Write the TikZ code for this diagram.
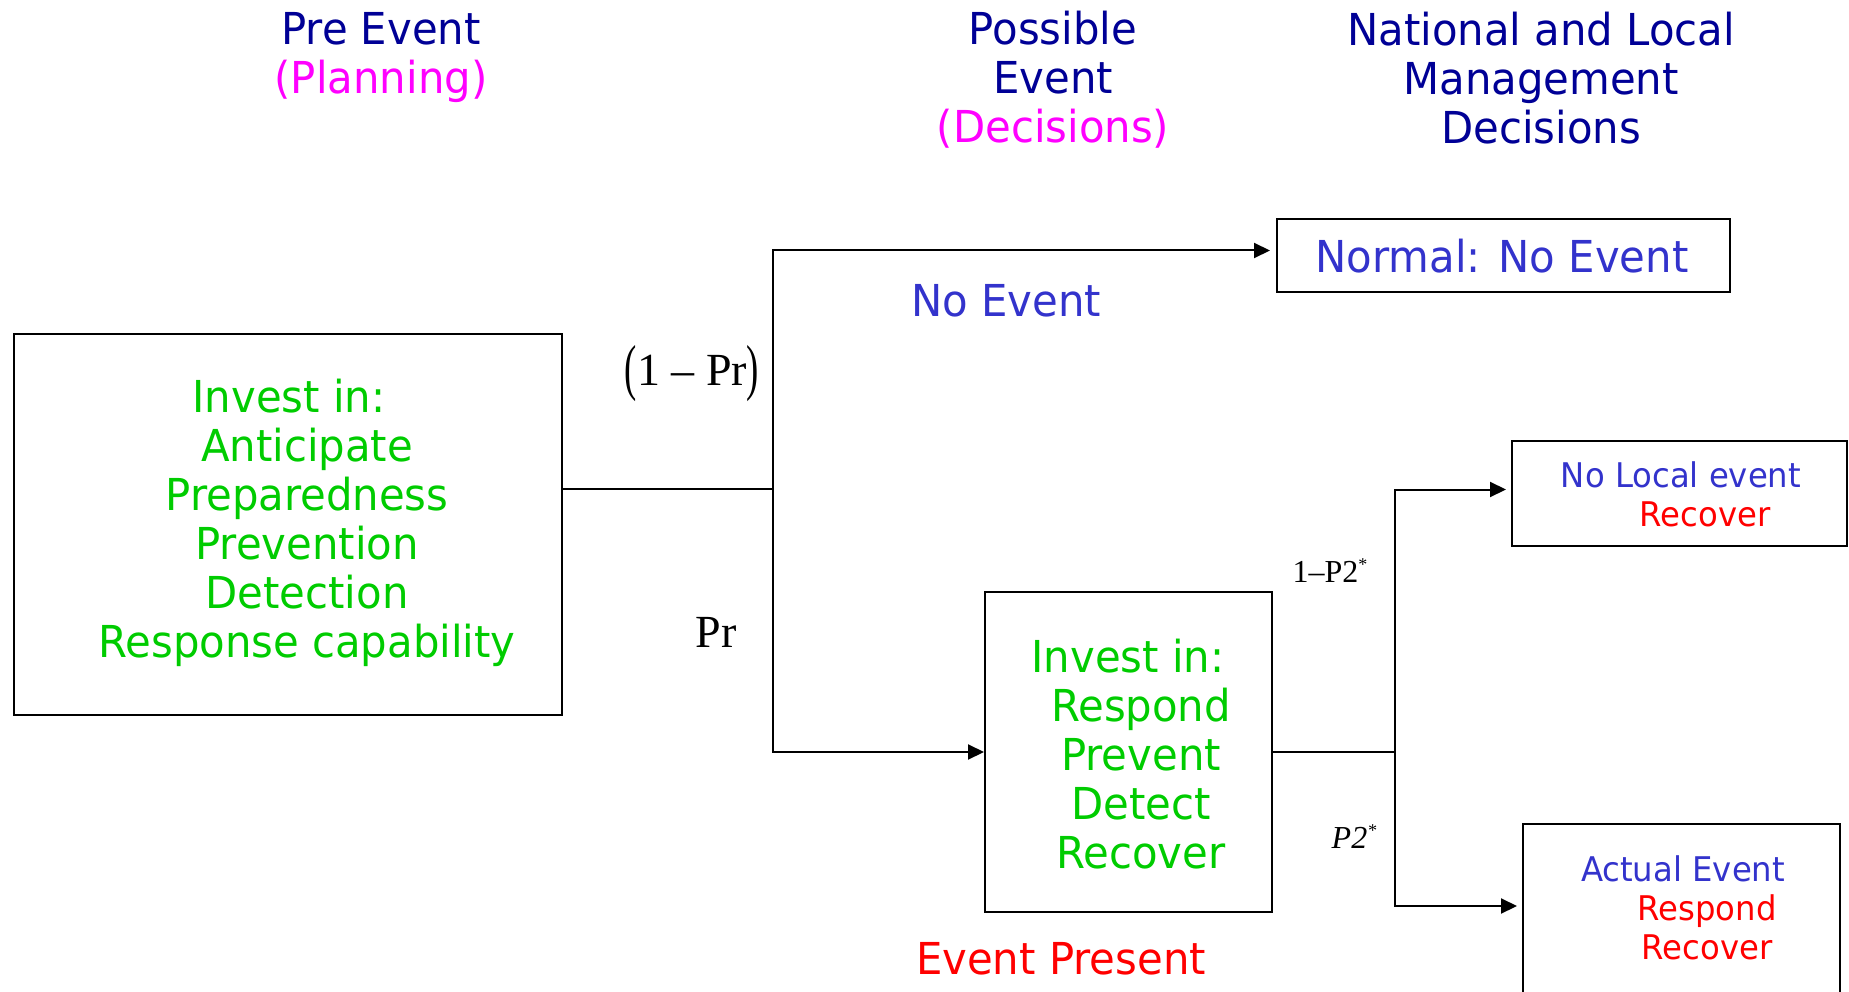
\documentclass[tikz,border=0pt]{standalone}
\usepackage{fontspec}
\setmainfont{DejaVu Sans}[FakeStretch=0.95]
\newfontfamily\tms{Liberation Serif}
\usetikzlibrary{arrows.meta}
\definecolor{hdrblue}{RGB}{0,0,150}
\definecolor{lblue}{RGB}{51,51,204}
\definecolor{mag}{RGB}{255,0,255}
\definecolor{grn}{RGB}{0,204,0}
\definecolor{rd}{RGB}{255,0,0}
\tikzset{
  boxnode/.style={draw, line width=2pt, inner sep=0pt},
  conn/.style={line width=2pt},
  arr/.style={conn, -{Triangle[length=16pt,width=15pt]}},
  big/.style={font=\fontsize{44}{49}\selectfont, align=center, inner sep=0pt},
  small/.style={font=\fontsize{34}{39}\selectfont, align=center, inner sep=0pt},
  mathlbl/.style={font=\tms\fontsize{46}{46}\selectfont, inner sep=0pt},
  smathlbl/.style={font=\tms\fontsize{32}{32}\selectfont, inner sep=0pt}
}
\begin{document}
\begin{tikzpicture}[x=1pt,y=-1pt]
\clip (0,0) rectangle (1849,992);
\fill[white] (0,0) rectangle (1849,992);
% headers
\node[big, text=hdrblue] (h1) at (381,58) {Pre Event\\\textcolor{mag}{(Planning)}};
\node[big, text=hdrblue] (h2) at (1053,80) {Possible\\Event\\\textcolor{mag}{(Decisions)}};
\node[big, text=hdrblue] (h3) at (1541,78) {National and Local\\Management\\Decisions};
% boxes
\node[boxnode, minimum width=548pt, minimum height=381pt] (pre) at (288,524.5) {};
\node[big, text=grn] (pretext) at (307,523) {\hspace*{-36pt}Invest in:\\Anticipate\\Preparedness\\Prevention\\Detection\\Response capability};
\node[boxnode, minimum width=287pt, minimum height=320pt] (mid) at (1128.5,752) {};
\node[big, text=grn] (midtext) at (1141,754) {\hspace*{-26pt}Invest in:\\Respond\\Prevent\\Detect\\Recover};
\node[boxnode, minimum width=453pt, minimum height=73pt] (normal) at (1503.5,255.5) {};
\node[big, text=lblue] (normaltext) at (1502,256) {Normal: No Event};
\node[boxnode, minimum width=335pt, minimum height=105pt] (nolocal) at (1679.5,493.5) {};
\node[small, text=lblue] (nolocaltext) at (1681,494) {No Local event\\\hspace*{48pt}\textcolor{rd}{Recover}};
\node[boxnode, minimum width=317pt, minimum height=180pt] (actual) at (1681.5,914) {};
\node[small, text=lblue] (actualtext) at (1683,908) {Actual Event\\\hspace*{48pt}\textcolor{rd}{Respond}\\\hspace*{48pt}\textcolor{rd}{Recover}};
% labels
\node[big, text=lblue] (noevent) at (1006,301) {No Event};
\node[big, text=rd] (evpresent) at (1061,959) {Event Present};
\node[mathlbl] (onepr) at (692,374) {\raisebox{-3pt}{\scalebox{0.8}[1.35]{(}}1 – Pr\raisebox{-3pt}{\scalebox{0.8}[1.35]{)}}};
\node[mathlbl] (pr) at (716,632) {Pr};
\node[smathlbl] (onep2) at (1330,571) {1–P2\raisebox{12pt}{\fontsize{18}{18}\selectfont*}};
\node[smathlbl] (p2) at (1354,837) {\itshape P2\raisebox{12pt}{\fontsize{18}{18}\selectfont*}};
% connectors
\coordinate (j1) at (773,489);
\coordinate (j2) at (1395,752);
\draw[conn] (pre.east |- j1) -- (j1);
\draw[arr, shorten >=6pt] (j1) |- ([yshift=5pt]normal.west);
\draw[arr] (j1) |- (mid.west);
\draw[conn] (mid.east) -- (j2);
\draw[arr, shorten >=5pt] (j2) |- ([yshift=4pt]nolocal.west);
\draw[arr, shorten >=5pt] (j2) |- ([yshift=8pt]actual.west);
\end{tikzpicture}
\end{document}
